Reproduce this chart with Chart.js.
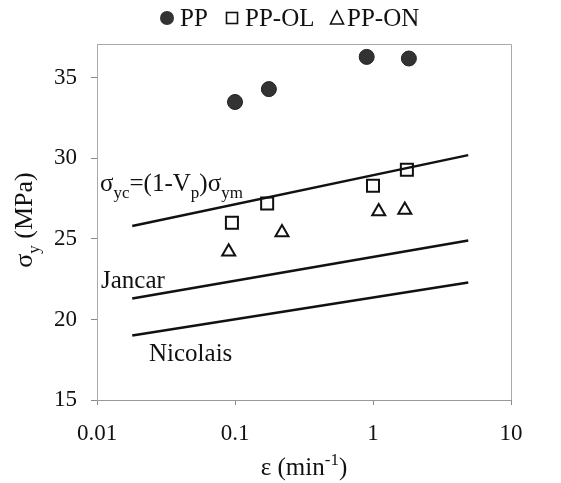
<!DOCTYPE html>
<html>
<head>
<meta charset="utf-8">
<script src="https://cdn.jsdelivr.net/npm/chart.js@4.4.0/dist/chart.umd.min.js"></script>
<style>
  html, body { margin: 0; padding: 0; background: #fff; }
</style>
</head>
<body>
<canvas id="chart" width="561" height="483"></canvas>
<script>
// Datos
const xTicks = [0.01, 0.1, 1, 10];
const yTicks = [15, 20, 25, 30, 35];

const ppX = [0.1, 0.176, 0.9, 1.82];
const ppY = [33.5, 34.3, 36.3, 36.2];
const olX = [0.095, 0.171, 1.0, 1.76];
const olY = [26.0, 27.2, 28.3, 29.3];
const onX = [0.09, 0.219, 1.1, 1.7];
const onY = [24.2, 25.4, 26.7, 26.8];

const lineX = [0.018, 4.9];
const modelY = [25.8, 30.2];
const jancarY = [21.3, 24.9];
const nicolaisY = [19.0, 22.3];

const FONT = "'Liberation Serif', 'Times New Roman', serif";

function pts(xs, ys) {
    return xs.map((x, i) => ({ x: x, y: ys[i] }));
}

// texto con subindices / superindices
function drawRich(ctx, parts, x, y, size) {
    let cx = x;
    parts.forEach(p => {
        const small = p[1] !== 'n';
        ctx.font = (small ? Math.round(size * 0.66) : size) + 'px ' + FONT;
        let dy = 0;
        if (p[1] === 'sub') dy = size * 0.28;
        if (p[1] === 'sup') dy = -size * 0.4;
        ctx.fillText(p[0], cx, y + dy);
        cx += ctx.measureText(p[0]).width;
    });
    return cx - x;
}

function richWidth(ctx, parts, size) {
    let w = 0;
    parts.forEach(p => {
        const small = p[1] !== 'n';
        ctx.font = (small ? Math.round(size * 0.66) : size) + 'px ' + FONT;
        w += ctx.measureText(p[0]).width;
    });
    return w;
}

const textPlugin = {
    id: 'textPlugin',
    afterDraw(chart) {
        const ctx = chart.ctx;
        const a = chart.chartArea;
        ctx.save();
        ctx.fillStyle = '#111';
        ctx.textBaseline = 'alphabetic';
        ctx.textAlign = 'left';

        // marco superior y derecho
        ctx.strokeStyle = '#aaa';
        ctx.lineWidth = 1;
        ctx.beginPath();
        ctx.moveTo(a.left, a.top + 0.5);
        ctx.lineTo(a.right + 0.5, a.top + 0.5);
        ctx.lineTo(a.right + 0.5, a.bottom);
        ctx.stroke();

        // etiquetas de las curvas
        drawRich(ctx, [['σ', 'n'], ['yc', 'sub'], ['=(1-V', 'n'], ['p', 'sub'], [')σ', 'n'], ['ym', 'sub']], 100, 191, 25);
        drawRich(ctx, [['Jancar', 'n']], 101, 288, 25);
        drawRich(ctx, [['Nicolais', 'n']], 149, 361, 25);

        // titulo eje x
        const xt = [['ε (min', 'n'], ['-1', 'sup'], [')', 'n']];
        const xw = richWidth(ctx, xt, 25);
        drawRich(ctx, xt, 304 - xw / 2, 475, 25);

        // titulo eje y
        ctx.save();
        ctx.translate(32, 220);
        ctx.rotate(-Math.PI / 2);
        const yt = [['σ', 'n'], ['y', 'sub'], [' (MPa)', 'n']];
        const yw = richWidth(ctx, yt, 26);
        drawRich(ctx, yt, -yw / 2, 0, 26);
        ctx.restore();

        // leyenda
        ctx.font = '25px ' + FONT;
        ctx.fillStyle = '#333';
        ctx.beginPath();
        ctx.arc(167, 18, 7, 0, Math.PI * 2);
        ctx.fill();
        ctx.strokeStyle = '#111';
        ctx.lineWidth = 1.6;
        ctx.strokeRect(226.5, 12.5, 11, 11);
        ctx.beginPath();
        ctx.moveTo(337, 11);
        ctx.lineTo(343.5, 24);
        ctx.lineTo(330.5, 24);
        ctx.closePath();
        ctx.stroke();
        ctx.fillStyle = '#111';
        ctx.fillText('PP', 180, 26);
        ctx.fillText('PP-OL', 245, 26);
        ctx.fillText('PP-ON', 347, 26);
        ctx.restore();
    }
};

const lineStyle = {
    showLine: true,
    pointRadius: 0,
    borderColor: '#111',
    borderWidth: 2.5,
    fill: false
};

const ctx = document.getElementById('chart').getContext('2d');
new Chart(ctx, {
    type: 'scatter',
    data: {
        datasets: [
            { label: 'PP', data: pts(ppX, ppY), pointStyle: 'circle', pointRadius: 7.5,
              backgroundColor: '#333', borderColor: '#222', borderWidth: 1 },
            { label: 'PP-OL', data: pts(olX, olY), pointStyle: 'rect', pointRadius: 8.5,
              backgroundColor: 'rgba(0,0,0,0)', borderColor: '#111', borderWidth: 2 },
            { label: 'PP-ON', data: pts(onX, onY), pointStyle: 'triangle', pointRadius: 7.5,
              backgroundColor: 'rgba(0,0,0,0)', borderColor: '#111', borderWidth: 2 },
            Object.assign({ label: 'model', data: pts(lineX, modelY) }, lineStyle),
            Object.assign({ label: 'Jancar', data: pts(lineX, jancarY) }, lineStyle),
            Object.assign({ label: 'Nicolais', data: pts(lineX, nicolaisY) }, lineStyle)
        ]
    },
    options: {
        responsive: false,
        animation: false,
        layout: { padding: { top: 44, right: 50, left: 0, bottom: 0 } },
        plugins: {
            legend: { display: false },
            tooltip: { enabled: false }
        },
        scales: {
            x: {
                type: 'logarithmic',
                min: 0.01,
                max: 10,
                afterBuildTicks: function(axis) {
                    axis.ticks = xTicks.map(v => ({ value: v }));
                },
                afterFit: function(scale) { scale.height = 83; },
                ticks: {
                    autoSkip: false,
                    maxRotation: 0,
                    padding: 15,
                    color: '#111',
                    font: { family: FONT, size: 23 },
                    callback: function(v) { return String(v); }
                },
                grid: { drawOnChartArea: false, tickLength: 5, color: '#888' },
                border: { color: '#999', width: 1 }
            },
            y: {
                min: 15,
                max: 37.1,
                afterBuildTicks: function(axis) {
                    axis.ticks = yTicks.map(v => ({ value: v }));
                },
                afterFit: function(scale) { scale.width = 97; },
                ticks: {
                    padding: 14,
                    color: '#111',
                    font: { family: FONT, size: 23 }
                },
                grid: { drawOnChartArea: false, tickLength: 6, color: '#888' },
                border: { color: '#aaa', width: 1 }
            }
        }
    },
    plugins: [textPlugin]
});
</script>
</body>
</html>
